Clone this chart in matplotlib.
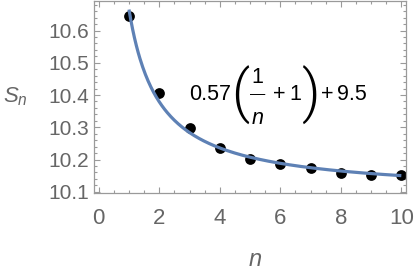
import numpy as np
import matplotlib
matplotlib.use("Agg")
import matplotlib.pyplot as plt
from matplotlib.ticker import MultipleLocator, FormatStrFormatter

plt.rcParams['font.family'] = ['Liberation Sans', 'DejaVu Sans']
plt.rcParams['mathtext.fontset'] = 'custom'
plt.rcParams['mathtext.rm'] = 'Liberation Sans'
plt.rcParams['mathtext.it'] = 'Liberation Sans:italic'

# data points S_n
n_vals = [1, 2, 3, 4, 5, 6, 7, 8, 9, 10]
s_vals = [10.645, 10.406, 10.298, 10.237, 10.201, 10.186, 10.173, 10.158, 10.152, 10.153]

# fitted curve a/n + b (as drawn)
fit_a = 0.572
fit_b = 10.093

frame_col = '#9a9a9a'
label_col = '#666666'

fig = plt.figure(figsize=(4.15, 2.77), dpi=100)
ax = fig.add_axes([0.227, 0.304, 0.751, 0.693])

ax.scatter(n_vals, s_vals, s=60, color='black', zorder=2, linewidths=0)

nn = np.linspace(1, 10, 300)
ax.plot(nn, fit_a / nn + fit_b, color='#5E81B5', linewidth=2.3, zorder=3,
        solid_capstyle='butt')

ax.set_xlim(-0.15, 10.15)
ax.set_ylim(10.097, 10.692)

ax.xaxis.set_major_locator(MultipleLocator(2))
ax.xaxis.set_minor_locator(MultipleLocator(0.5))
ax.yaxis.set_major_locator(MultipleLocator(0.1))
ax.yaxis.set_minor_locator(MultipleLocator(0.02))
ax.yaxis.set_major_formatter(FormatStrFormatter('%.1f'))

ax.tick_params(which='both', direction='in', top=True, right=True,
               color=frame_col, width=0.8, labelcolor=label_col)
ax.tick_params(which='major', length=4)
ax.tick_params(which='minor', length=2.2)
ax.tick_params(axis='x', which='major', labelsize=16, pad=11)
ax.tick_params(axis='y', which='major', labelsize=15, pad=4)

for sp in ax.spines.values():
    sp.set_color(frame_col)
    sp.set_linewidth(0.9)

# formula label 0.57(1/n + 1) + 9.5, laid out piece by piece
anchor = (3.0, 10.4)
fs = 15.5
paren_fonts = ['Roboto', 'Liberation Sans']


def piece(s, dx, dy, ha='center', va='baseline', **kw):
    ax.annotate(s, xy=anchor, xycoords='data', xytext=(dx, dy),
                textcoords='offset pixels', ha=ha, va=va, color='black',
                fontsize=kw.pop('fontsize', fs), **kw)


piece('0.57', 0, -5, ha='left')
piece('(', 50.5, -0.5, va='center', fontsize=41, family=paren_fonts, fontweight=300)
piece('1', 68, 12)
piece('\u2014', 68, -2.5, fontsize=11)
piece('n', 68.5, -28.5, style='italic')
piece('+', 89.5, -5)
piece('1', 106, -5)
piece(')', 120.5, -0.5, va='center', fontsize=41, family=paren_fonts, fontweight=300)
piece('+', 138, -5)
piece('9.5', 147, -5, ha='left')

fig.text(0.036, 0.65, r'$S_n$', fontsize=16, color=label_col,
         ha='center', va='center')
fig.text(0.614, 0.06, r'$n$', fontsize=17, color=label_col,
         ha='center', va='center')

plt.savefig('out.png', dpi=100)
